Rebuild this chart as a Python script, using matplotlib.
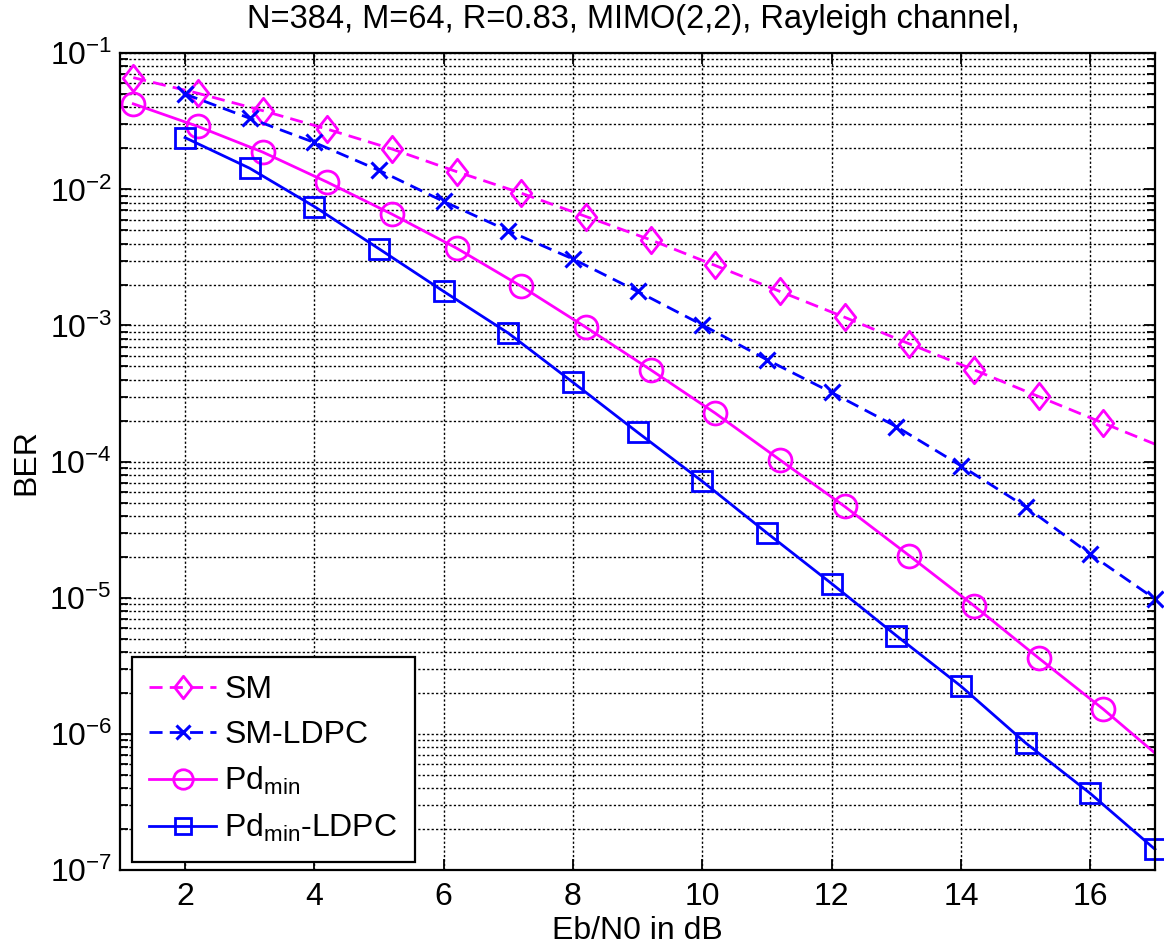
import matplotlib
matplotlib.use("Agg")
import matplotlib.pyplot as plt
from matplotlib.path import Path
from matplotlib.ticker import LogLocator, NullFormatter, FixedLocator, LogFormatterSciNotation

# Eb/N0 points (dB)
ebn0_uncoded = [1.2, 2.2, 3.2, 4.2, 5.2, 6.2, 7.2, 8.2, 9.2, 10.2, 11.2, 12.2, 13.2, 14.2, 15.2, 16.2, 17.2]
ebn0_ldpc = [2, 3, 4, 5, 6, 7, 8, 9, 10, 11, 12, 13, 14, 15, 16, 17]

ber_sm = [0.0662, 0.0508, 0.0379, 0.0277, 0.0198, 0.0135, 0.00938, 0.00632, 0.00426,
          0.00276, 0.00178, 0.00115, 0.000734, 0.000473, 0.000301, 0.000192, 0.000123]
ber_sm_ldpc = [0.0502, 0.0333, 0.0221, 0.0138, 0.00815, 0.00496, 0.00308, 0.00178,
               0.00101, 0.00056, 0.000322, 0.000181, 9.33e-5, 4.66e-5, 2.09e-5, 9.8e-6]
ber_pdmin = [0.0425, 0.029, 0.0188, 0.0113, 0.00658, 0.0037, 0.00194, 0.00097, 0.000473,
             0.000227, 0.000103, 4.69e-5, 2.04e-5, 8.75e-6, 3.61e-6, 1.52e-6, 6.0e-7]
ber_pdmin_ldpc = [0.024, 0.0143, 0.00748, 0.00366, 0.00178, 0.000879, 0.000382, 0.000164,
                  7.16e-5, 2.99e-5, 1.27e-5, 5.27e-6, 2.24e-6, 8.58e-7, 3.65e-7, 1.42e-7]

labels = ["SM", "SM-LDPC", r"Pd$_{\rm min}$", r"Pd$_{\rm min}$-LDPC"]
x_ticks = [2, 4, 6, 8, 10, 12, 14, 16]
y_ticks = [1e-7, 1e-6, 1e-5, 1e-4, 1e-3, 1e-2, 1e-1]

plt.rcParams["font.family"] = "Liberation Sans"
plt.rcParams["mathtext.fontset"] = "custom"
plt.rcParams["mathtext.rm"] = "Liberation Sans"
plt.rcParams["mathtext.it"] = "Liberation Sans"
plt.rcParams["mathtext.bf"] = "Liberation Sans:bold"
plt.rcParams["axes.unicode_minus"] = False

FS = 23
MAGENTA = "#ff00ff"
BLUE = "#0000ff"
diamond = Path([(0, 1), (0.78, 0), (0, -1), (-0.78, 0), (0, 1)], closed=True)

fig = plt.figure(figsize=(11.64, 9.51), dpi=100)
ax = fig.add_axes([0.1034, 0.0852, 0.8888, 0.8588])

dash = (0, (4.7, 2.6))
ax.plot(ebn0_uncoded, ber_sm, color=MAGENTA, linestyle=dash, lw=2,
        marker=diamond, ms=19, mfc="none", mew=2, label=labels[0])
ax.plot(ebn0_ldpc, ber_sm_ldpc, color=BLUE, linestyle=dash, lw=2,
        marker="x", ms=12, mew=2.2, label=labels[1], clip_on=False)
ax.plot(ebn0_uncoded, ber_pdmin, color=MAGENTA, linestyle="-", lw=2,
        marker="o", ms=16.5, mfc="none", mew=2, label=labels[2])
ax.plot(ebn0_ldpc, ber_pdmin_ldpc, color=BLUE, linestyle="-", lw=2,
        marker="s", ms=14, mfc="none", mew=2, label=labels[3], clip_on=False)

ax.set_yscale("log")
ax.set_xlim(1, 17)
ax.set_ylim(1e-7, 1e-1)
ax.xaxis.set_major_locator(FixedLocator(x_ticks))
ax.yaxis.set_major_locator(FixedLocator(y_ticks))
ax.yaxis.set_major_formatter(LogFormatterSciNotation())
ax.yaxis.set_minor_locator(LogLocator(base=10, subs=range(2, 10), numticks=20))
ax.yaxis.set_minor_formatter(NullFormatter())

ax.tick_params(which="both", direction="in", top=True, right=True, labelsize=FS, width=1.3)
ax.tick_params(axis="x", which="major", length=8, pad=9)
ax.tick_params(axis="y", which="major", length=8, pad=6)
ax.tick_params(axis="y", which="minor", length=6)
for sp in ax.spines.values():
    sp.set_linewidth(1.6)

grid_style = dict(color="black", linestyle=(0, (1.6, 1.6)), linewidth=1.0)
ax.grid(True, which="major", axis="both", **grid_style)
ax.grid(True, which="minor", axis="y", **grid_style)
ax.set_axisbelow(True)

ax.set_title("N=384, M=64, R=0.83, MIMO(2,2), Rayleigh channel, ", fontsize=23.5, pad=18)
ax.set_xlabel("Eb/N0 in dB", fontsize=FS)
ax.set_ylabel("BER", fontsize=FS)
ax.xaxis.set_label_coords(0.5, -0.056)
ax.yaxis.set_label_coords(-0.0765, 0.5)

leg = ax.legend(loc="lower left", bbox_to_anchor=(0.011, 0.01), fontsize=FS,
                fancybox=False, framealpha=1, edgecolor="black", numpoints=1,
                markerscale=0.85, handlelength=2.1, handletextpad=0.25,
                labelspacing=0.47, borderpad=0.55, borderaxespad=0)
leg.get_frame().set_linewidth(1.6)

fig.savefig("out.png", dpi=100)
